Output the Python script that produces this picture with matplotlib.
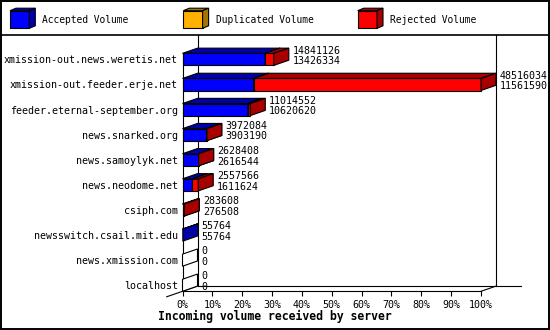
import matplotlib
matplotlib.use("Agg")
import matplotlib.pyplot as plt
from matplotlib.patches import Rectangle, Polygon
from matplotlib.lines import Line2D

servers = ["xmission-out.news.weretis.net", "xmission-out.feeder.erje.net",
           "feeder.eternal-september.org", "news.snarked.org", "news.samoylyk.net",
           "news.neodome.net", "csiph.com", "newsswitch.csail.mit.edu",
           "news.xmission.com", "localhost"]
total_volume = [14841126, 48516034, 11014552, 3972084, 2628408, 2557566, 283608, 55764, 0, 0]
accepted_volume = [13426334, 11561590, 10620620, 3903190, 2616544, 1611624, 276508, 55764, 0, 0]
duplicated_volume = [0, 0, 0, 0, 0, 0, 0, 0, 0, 0]
legend_labels = ["Accepted Volume", "Duplicated Volume", "Rejected Volume"]
pct_ticks = [0, 10, 20, 30, 40, 50, 60, 70, 80, 90, 100]
title = "Incoming volume received by server"

FRONT = {"acc": "#0000FF", "dup": "#FFB000", "rej": "#FF0000"}
DARK = {"acc": "#0000A8", "dup": "#A87400", "rej": "#A80000"}
MONO = "DejaVu Sans Mono"
LW = 0.8

W, H = 550, 330
fig = plt.figure(figsize=(5.5, 3.3), dpi=100)
fig.patch.set_facecolor("white")

# decoration axes in pixel space
axd = fig.add_axes([0, 0, 1, 1])
axd.set_xlim(0, W)
axd.set_ylim(H, 0)
axd.axis("off")
axd.add_patch(Rectangle((1, 1), W - 2.5, H - 2.5, fill=False, edgecolor="black", lw=1.4))
axd.add_line(Line2D([0, W], [35, 35], color="black", lw=1.2))


def box(ax, x0, x1, yt, yb, dx, dy, key, z=3):
    kw = dict(edgecolor="black", lw=LW, clip_on=False, joinstyle="miter", zorder=z)
    ax.add_patch(Rectangle((x0, yt), x1 - x0, yb - yt, facecolor=FRONT[key], **kw))
    ax.add_patch(Polygon([(x0, yt), (x0 + dx, yt - dy), (x1 + dx, yt - dy), (x1, yt)],
                         closed=True, facecolor=DARK[key], **kw))
    ax.add_patch(Polygon([(x1, yt), (x1 + dx, yt - dy), (x1 + dx, yb - dy), (x1, yb)],
                         closed=True, facecolor=DARK[key], **kw))


# legend
leg_x = [10, 183.3, 357.7]
for lx, key, lab in zip(leg_x, ["acc", "dup", "rej"], legend_labels):
    box(axd, lx, lx + 19.3, 10.7, 28.3, 6, 2.5, key)
    axd.text(lx + 32.3, 20, lab, fontsize=6.9, family=MONO, va="center", ha="left")

# main axes
px_left, px_right, px_top, px_bot = 182.5, 481.0, 40.3, 291.3
ax = fig.add_axes([px_left / W, 1 - px_bot / H, (px_right - px_left) / W, (px_bot - px_top) / H])
ax.patch.set_visible(False)
n = len(servers)
ax.set_xlim(0, 100)
ax.set_ylim(n, 0)
for s in ax.spines.values():
    s.set_visible(False)

xpx = (px_right - px_left) / 100.0
ypx = (px_bot - px_top) / n
DX = 15 / xpx
DY = 5.2 / ypx
ytop_wall = (35 - px_top) / ypx

# walls / frame lines
lk = dict(color="black", lw=LW, clip_on=False, zorder=2)
ax.add_line(Line2D([DX, DX], [ytop_wall, n - DY], **lk))
ax.add_line(Line2D([100 + DX, 100 + DX], [ytop_wall, n - DY], **lk))
ax.add_line(Line2D([DX, (521 - px_left) / xpx], [n - DY, n - DY], **lk))
ax.add_line(Line2D([-DX * 1.05, DX], [n + DY * 1.05, n - DY], **lk))
ax.add_line(Line2D([100, 100 + DX], [n, n - DY], **lk))
ax.add_line(Line2D([0, 100], [n, n], **lk))
ax.add_line(Line2D([0, 0], [0.52, n], **lk))

vmax = max(total_volume)
FT, FB = 0.52, 1.0
for i in range(n):
    tot = total_volume[i]
    acc = accepted_volume[i]
    dup = duplicated_volume[i]
    a = acc / vmax * 100
    d = (acc + dup) / vmax * 100
    t = tot / vmax * 100
    yt, yb = i + FT, i + FB
    if tot == 0:
        ax.add_patch(Polygon([(0, yt), (DX, yt - DY), (DX, yb - DY), (0, yb)], closed=True,
                             facecolor="white", edgecolor="black", lw=LW, clip_on=False, zorder=3))
    else:
        if a > 0:
            box(ax, 0, a, yt, yb, DX, DY, "acc")
        if d > a:
            box(ax, a, d, yt, yb, DX, DY, "dup")
        if t > d:
            box(ax, d, t, yt, yb, DX, DY, "rej")
    ax.text(t + DX + 1.2, i + 0.41, str(tot), fontsize=7.2, family=MONO, va="center", ha="left",
            clip_on=False, zorder=5)
    ax.text(t + DX + 1.2, i + 0.83, str(acc), fontsize=7.2, family=MONO, va="center", ha="left",
            clip_on=False, zorder=5)

ax.set_yticks([i + 0.76 for i in range(n)])
ax.set_yticklabels(servers, fontsize=7.2, family=MONO)
ax.tick_params(axis="y", length=0, pad=3.2)
ax.set_xticks(pct_ticks)
ax.set_xticklabels([f"{v}%" for v in pct_ticks], fontsize=7.2, family=MONO)
ax.tick_params(axis="x", length=3.6, width=LW, direction="out", pad=2.5)

fig.text(274.5 / W, 1 - 316.7 / H, title, fontsize=8.3, family=MONO, fontweight="bold",
         ha="center", va="center")

fig.savefig("out.png", dpi=100)
